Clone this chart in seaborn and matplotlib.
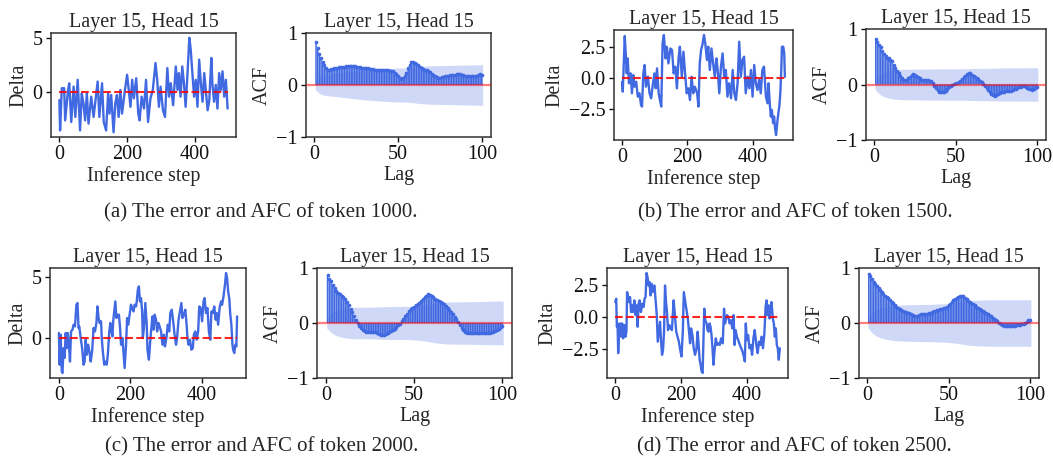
import numpy as np
import matplotlib
matplotlib.use("Agg")
import matplotlib.pyplot as plt
import seaborn as sns

# ---------------- data ----------------
TITLE = "Layer 15, Head 15"
CAPTIONS = ["(a) The error and AFC of token 1000.",
            "(b) The error and AFC of token 1500.",
            "(c) The error and AFC of token 2000.",
            "(d) The error and AFC of token 2500."]
N_OBS = 500
DELTA_XTICKS = [0, 200, 400]
ACF_XTICKS = [0, 50, 100]
ACF_YTICKS = [-1, 0, 1]
YTICKS_A = [0, 5]
YTICKS_B = [-2.5, 0.0, 2.5]
YTICKS_C = [0, 5]
YTICKS_D = [-2.5, 0.0, 2.5]

steps_a = [0,2,7,14,17,25,29,35,42,47,54,61,66,71,76,81,86,94,101,113,118,126,131,138,144,148,153,160,165,170,
           175,180,185,193,200,205,210,215,220,227,233,237,243,250,256,262,269,276,284,289,294,299,306,312,319,324,329,336,344,349,
           353,358,363,368,373,378,384,388,393,398,403,408,413,418,423,428,433,438,443,449,452,457,462,467,472,477,482,487,492,497]
delta_a = [-0.72,-3.53,0.38,0.38,-2.6,0.06,0.84,-2.75,0.53,-2.28,1.16,-3.53,-0.09,-1.03,-2.6,-0.09,-2.9,-0.4,-2.28,1.0,
           -2.28,0.84,-2.75,-3.53,-0.09,-1.97,-0.25,-3.7,-1.03,-0.25,-2.28,0.22,-1.97,0.06,1.63,0.22,-1.34,1.16,-0.56,1.31,
           -1.97,-2.6,-0.4,-1.5,1.16,-2.75,-0.56,0.22,2.72,1.16,-1.34,0.53,-1.66,-2.28,2.25,-0.4,0.84,-1.19,2.4,0.22,
           1.78,-0.4,2.4,0.84,-1.34,1.47,5.06,3.97,1.78,-0.4,1.16,-1.34,3.03,0.84,-0.87,1.78,0.06,-1.66,-0.72,3.19,
           0.84,-0.87,0.69,-1.5,1.78,0.22,1.94,-0.4,1.16,-1.5]

steps_b = [0,2,5,8,11,14,17,21,26,30,34,38,43,48,53,58,61,65,69,73,79,84,89,94,99,103,107,112,117,120,
           124,128,133,137,142,148,153,158,163,168,173,177,183,188,193,198,203,208,213,218,223,230,234,238,242,246,251,255,260,264,
           269,274,279,284,289,293,298,303,308,313,318,323,328,334,339,344,349,354,359,364,369,374,379,385,390,395,400,405,410,415,
           420,425,430,435,441,446,449,453,456,459,463,466,469,472,476,479,482,485,488,490,494,497,499]
delta_b = [-0.27,-1.07,1.2,3.4,2.0,0.4,1.6,-0.4,0.4,-1.2,0.27,-0.67,-0.27,-1.47,-1.2,-2.14,-2.27,0.4,1.07,-0.67,
           0.13,-1.2,-1.6,-0.53,0.4,-0.8,0.8,-1.2,-1.87,-2.27,2.8,3.48,1.6,2.54,1.2,2.4,2.27,0.4,0.94,-0.8,
           1.6,2.54,0.13,2.14,0.4,-1.2,-0.8,-1.74,0.13,-1.2,-0.67,-1.2,-2.27,1.2,2.27,2.67,3.48,2.8,1.47,2.54,
           0.67,2.4,1.2,0.13,1.6,0.67,-1.2,0.94,2.0,0.13,0.67,-1.47,-0.4,-1.6,0.67,-1.2,-1.74,-0.4,2.94,0.13,
           1.47,1.74,-1.2,0.13,-0.8,0.67,-1.47,1.07,-0.4,-0.94,-0.13,-1.2,0.67,0.94,-1.47,-2.0,-0.4,-2.14,-3.07,-2.54,
           -3.6,-3.07,-4.0,-4.55,-3.48,-2.8,-2.27,-1.2,0.67,2.54,2.54,2.0,0.13]

steps_c = [0,2,5,8,10,13,16,19,22,25,28,31,34,38,41,45,49,52,55,57,61,65,69,72,75,78,82,86,89,93,
           97,101,105,108,111,114,118,120,123,127,130,134,137,141,144,147,150,152,155,158,161,165,168,171,174,178,182,184,188,191,
           194,198,202,205,209,212,216,218,221,224,227,230,233,235,238,242,246,248,252,255,258,262,265,268,272,275,279,282,286,290,
           294,297,301,305,309,312,316,320,324,328,331,335,339,343,346,350,354,358,360,363,367,371,375,378,382,386,390,393,397,401,
           405,408,412,416,420,424,427,431,435,439,442,446,450,454,457,461,465,468,471,474,477,480,483,486,488,491,494,497,499]
delta_c = [0.44,-2.16,0.3,-2.7,-2.84,-0.8,-1.6,0.44,-0.8,0.44,-0.52,-1.9,0.57,0.71,1.12,0.98,2.76,2.9,0.85,0.98,
           0.03,-0.8,-2.16,-1.9,-0.11,-1.34,-0.52,-1.2,-1.9,-1.07,0.85,0.57,1.26,2.62,1.67,1.26,1.4,0.03,-1.07,-2.16,
           -1.9,-2.16,-1.34,0.57,1.26,0.57,0.16,1.4,2.21,3.03,1.67,1.94,1.94,0.98,-0.52,0.03,-1.6,-2.43,-0.52,1.67,
           1.12,1.94,2.76,2.49,2.21,2.76,2.62,3.03,3.99,4.26,3.03,3.3,2.21,0.03,0.85,2.9,1.12,-0.93,-1.75,-0.52,
           0.57,1.8,0.71,1.94,1.53,0.57,1.26,0.98,0.57,-0.52,0.3,-0.66,0.03,1.12,0.57,2.08,2.35,1.4,0.3,-0.52,
           0.03,1.53,2.21,2.9,1.67,1.94,2.35,0.98,0.03,-0.52,-0.11,-0.93,-0.8,0.3,0.57,-0.11,0.57,2.62,2.49,1.4,
           3.03,3.3,2.08,2.49,0.57,-0.11,2.21,2.08,2.62,1.53,2.08,1.12,2.49,3.03,2.76,3.44,4.4,5.36,4.95,3.85,
           3.3,1.94,1.12,-0.52,-0.93,-1.2,-0.52,-0.66,1.8]

steps_d = [0,3,5,7,9,12,15,18,21,24,28,31,34,36,39,42,45,48,51,54,58,62,65,68,71,74,78,82,86,89,
           92,95,98,101,104,107,110,113,116,119,122,126,129,132,136,139,142,145,148,151,154,157,160,164,168,172,177,181,185,189,
           193,197,201,205,208,211,214,217,220,223,227,230,234,238,242,246,250,253,256,259,262,265,268,270,273,277,280,283,286,289,
           292,295,298,301,305,309,313,317,321,326,330,333,336,339,343,347,351,355,359,362,365,369,373,378,382,386,390,393,396,399,
           403,407,411,415,419,423,428,432,436,440,444,448,452,456,459,462,465,468,471,474,478,481,484,487,490,493,496,499]
delta_d = [1.19,1.45,-0.75,-0.49,-2.82,-0.88,-0.49,-1.53,-0.49,-1.66,-0.62,-1.53,-1.14,1.97,1.58,1.19,1.58,0.41,0.93,0.41,
           1.32,0.16,0.93,-0.75,1.06,1.32,0.41,1.06,0.8,1.45,1.58,3.47,3.13,2.49,2.75,1.71,2.62,1.97,2.36,2.49,
           1.45,0.16,-1.92,-1.27,-0.36,-1.92,-2.95,-2.56,-1.14,2.49,1.19,0.41,-1.01,-0.62,-0.88,-1.01,1.32,0.16,-1.14,-1.53,
           -1.92,-2.56,-3.08,-1.14,1.97,1.45,0.93,0.41,-0.1,-0.88,-2.05,-0.88,-1.4,-2.44,-2.95,-2.56,-1.14,-2.18,-3.34,-3.73,
           -4.25,-4.38,-1.14,0.67,-0.23,-0.49,-1.01,-1.14,-0.49,-0.75,-1.4,-2.44,-3.73,-2.69,-1.66,-2.18,-2.05,-2.18,-1.66,-2.05,
           0.67,-0.49,-0.1,0.16,0.03,-0.49,-0.23,-0.88,0.16,-2.18,-1.01,-1.53,-1.79,-2.18,-2.44,-2.69,-3.08,-3.47,-0.49,-1.79,
           -1.4,-2.44,-2.18,-2.95,-1.66,-1.01,-2.18,-2.82,-1.92,-2.18,-1.53,-2.44,-1.4,0.8,1.32,0.16,0.93,-0.1,0.67,1.19,
           -0.1,-0.49,-1.53,-0.88,-2.18,-2.44,-3.34,-2.44]

# autocorrelation, lags 1..100
acf_a = [0.83,0.72,0.6,0.52,0.45,0.38,0.32,0.29,0.29,0.30, 0.31,0.32,0.33,0.33,0.34,0.34,0.35,0.35,0.36,0.36,
         0.37,0.37,0.36,0.36,0.35,0.34,0.34,0.33,0.33,0.33, 0.32,0.32,0.31,0.30,0.30,0.29,0.29,0.29,0.29,0.29,
         0.28,0.28,0.28,0.28,0.27,0.27,0.26,0.24,0.21,0.18, 0.14,0.12,0.14,0.18,0.24,0.32,0.39,0.44,0.45,0.43,
         0.41,0.38,0.35,0.33,0.31,0.29,0.28,0.27,0.25,0.22, 0.2,0.17,0.15,0.13,0.14,0.15,0.16,0.17,0.18,0.18,
         0.19,0.19,0.2,0.2,0.21,0.22,0.21,0.2,0.19,0.18, 0.18,0.18,0.17,0.17,0.17,0.17,0.18,0.2,0.21,0.2]
acf_b = [0.82,0.76,0.72,0.68,0.6,0.55,0.52,0.48,0.47,0.45, 0.42,0.36,0.3,0.25,0.21,0.16,0.12,0.09,0.08,0.09,
         0.11,0.14,0.17,0.19,0.17,0.16,0.14,0.12,0.09,0.08, 0.08,0.08,0.08,0.07,0.06,0.03,-0.02,-0.06,-0.1,-0.13,
         -0.14,-0.14,-0.13,-0.11,-0.08,-0.05,-0.03,-0.01,0.01,0.02, 0.03,0.05,0.07,0.1,0.13,0.16,0.19,0.21,0.2,0.18,
         0.16,0.14,0.12,0.1,0.07,0.04,0.01,-0.03,-0.06,-0.1, -0.14,-0.17,-0.19,-0.2,-0.19,-0.18,-0.16,-0.14,-0.13,-0.13,
         -0.12,-0.12,-0.11,-0.11,-0.1,-0.09,-0.08,-0.07,-0.05,-0.04, -0.03,-0.03,-0.05,-0.07,-0.09,-0.09,-0.1,-0.09,-0.06,-0.04]
acf_c = [0.88,0.8,0.76,0.7,0.64,0.58,0.55,0.52,0.5,0.47, 0.43,0.38,0.32,0.26,0.2,0.13,0.06,0.0,-0.05,-0.09,
         -0.12,-0.14,-0.16,-0.17,-0.17,-0.17,-0.16,-0.17,-0.19,-0.2, -0.21,-0.22,-0.21,-0.2,-0.18,-0.17,-0.15,-0.13,-0.11,-0.08,
         -0.04,-0.01,0.03,0.07,0.12,0.17,0.21,0.25,0.28,0.3, 0.32,0.34,0.37,0.4,0.43,0.47,0.5,0.52,0.51,0.49,
         0.47,0.44,0.42,0.4,0.38,0.37,0.34,0.31,0.28,0.24, 0.2,0.16,0.11,0.07,0.02,-0.04,-0.09,-0.13,-0.16,-0.18,
         -0.19,-0.19,-0.19,-0.18,-0.19,-0.19,-0.18,-0.19,-0.19,-0.18, -0.19,-0.19,-0.18,-0.17,-0.16,-0.15,-0.13,-0.11,-0.08,-0.05]
acf_d = [0.9,0.85,0.8,0.75,0.71,0.67,0.63,0.6,0.56,0.53, 0.5,0.47,0.45,0.42,0.39,0.36,0.33,0.3,0.27,0.25,
         0.23,0.21,0.2,0.2,0.19,0.18,0.17,0.15,0.13,0.12, 0.13,0.15,0.16,0.16,0.16,0.16,0.17,0.18,0.19,0.2,
         0.21,0.22,0.23,0.24,0.25,0.26,0.27,0.28,0.3,0.32, 0.35,0.38,0.41,0.44,0.46,0.48,0.5,0.5,0.49,0.46,
         0.43,0.4,0.38,0.36,0.34,0.32,0.3,0.28,0.26,0.24, 0.22,0.2,0.18,0.16,0.14,0.12,0.1,0.08,0.05,0.03,
         0.0,-0.02,-0.04,-0.05,-0.05,-0.05,-0.05,-0.05,-0.05,-0.05, -0.05,-0.04,-0.04,-0.03,-0.02,-0.01,0.0,0.02,0.05,0.06]

# ---------------- style ----------------
FS = 14.5
sns.set_theme(style="ticks", rc={
    "axes.linewidth": 1.1, "axes.edgecolor": "#333333",
    "xtick.major.size": 3.5, "ytick.major.size": 3.5,
    "xtick.major.width": 1.0, "ytick.major.width": 1.0,
    "xtick.major.pad": 2.5, "ytick.major.pad": 2.5,
    "xtick.color": "#111111", "ytick.color": "#111111",
    "font.size": FS, "axes.titlesize": FS, "axes.labelsize": FS,
    "xtick.labelsize": FS, "ytick.labelsize": FS,
})
plt.rcParams["font.family"] = ["Liberation Serif", "DejaVu Serif"]
plt.rcParams["axes.unicode_minus"] = True

BLUE = "#4169E1"
W, H = 1053, 462
fig = plt.figure(figsize=(W / 100, H / 100), dpi=100)


def add_ax(l, t, r, b):
    return fig.add_axes([l / W, 1 - b / H, (r - l) / W, (b - t) / H])


def delta_panel(ax, steps, vals, yticks):
    assert len(steps) == len(vals)
    sns.lineplot(x=steps, y=vals, ax=ax, color=BLUE, linewidth=1.7,
                 estimator=None, sort=False)
    ax.hlines(0, min(steps), max(steps), colors="red", linestyles="--",
              linewidth=1.5, alpha=0.85, zorder=3)
    ax.set_xticks(DELTA_XTICKS)
    ax.set_yticks(yticks)
    ax.set_xlabel("Inference step", labelpad=1)
    ax.set_ylabel("Delta", labelpad=3)
    ax.set_title(TITLE, pad=4)


def acf_panel(ax, acf):
    r = np.asarray(acf, dtype=float)
    lags = np.arange(1, len(r) + 1)
    # Bartlett confidence band (as in statsmodels plot_acf)
    var = np.ones(len(r)) / N_OBS
    var[1:] *= 1 + 2 * np.cumsum(r[:-1] ** 2)
    band = 1.96 * np.sqrt(var)
    xf = lags.astype(float)
    xf[0] -= 0.5
    xf[-1] += 0.5
    ax.fill_between(xf, -band, band, color=BLUE, alpha=0.25, linewidth=0, zorder=1)
    sns.barplot(x=lags, y=r, ax=ax, native_scale=True, color=BLUE, saturation=1,
                width=0.9, errorbar=None, linewidth=0, zorder=2, snap=False)
    ax.plot(lags, r, "o", ms=1.6, color=BLUE, zorder=2.5)
    ax.axhline(0, color="red", alpha=0.5, linewidth=1.6, zorder=3)
    ax.set_xlim(-5, 105.5)
    ax.set_ylim(-1, 1)
    ax.set_xticks(ACF_XTICKS)
    ax.set_yticks(ACF_YTICKS)
    ax.set_xlabel("Lag", labelpad=1)
    ax.set_ylabel("ACF", labelpad=3)
    ax.set_title(TITLE, pad=4)


delta_panel(add_ax(51, 33, 236, 137), steps_a, delta_a, YTICKS_A)
acf_panel(add_ax(306, 33, 491, 137), acf_a)
delta_panel(add_ax(614, 30, 793, 140), steps_b, delta_b, YTICKS_B)
acf_panel(add_ax(866, 29, 1046, 140), acf_b)
delta_panel(add_ax(50, 268, 246, 378), steps_c, delta_c, YTICKS_C)
acf_panel(add_ax(317, 268, 512, 378), acf_c)
delta_panel(add_ax(607, 268, 788, 378), steps_d, delta_d, YTICKS_D)
acf_panel(add_ax(859, 268, 1039, 378), acf_d)

for (cx, cy), txt in zip([(261, 213), (795, 213), (262, 447), (794, 447)], CAPTIONS):
    fig.text(cx / W, 1 - cy / H, txt, ha="center", va="center", fontsize=15)

fig.savefig("out.png", dpi=100)
